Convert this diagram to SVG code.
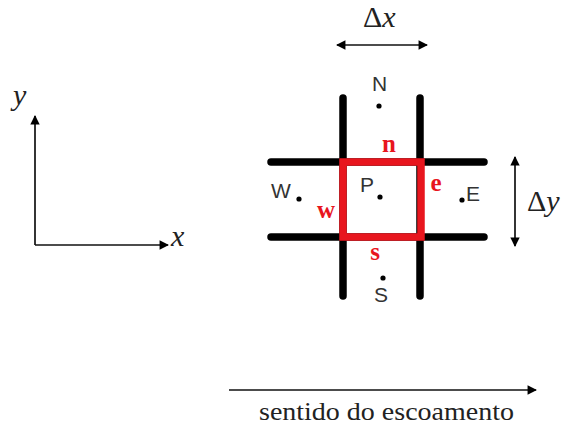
<svg xmlns="http://www.w3.org/2000/svg" width="562" height="426" viewBox="0 0 562 426">
<defs>
<marker id="ah" viewBox="0 0 10 10" refX="9" refY="5" markerWidth="6" markerHeight="5.5" orient="auto-start-reverse" markerUnits="strokeWidth">
<path d="M0,0 L10,5 L0,10 z" fill="#000"/>
</marker>
<style>
.ax{stroke:#111;stroke-width:1.7;fill:none}
.grid{stroke:#000;stroke-width:7.5;stroke-linecap:round}
.cv{fill:none;stroke:#e8161e;stroke-width:7.5}
.lbl{font-family:"Liberation Sans",Arial,sans-serif;font-size:21px;fill:#333}
.face{font-family:"Liberation Serif","Times New Roman",serif;font-weight:bold;font-size:25px;fill:#e8161e}
.math{font-family:"Liberation Serif","Times New Roman",serif;font-style:italic;font-size:30px;fill:#222}
.cap{font-family:"Liberation Serif","Times New Roman",serif;font-size:25px;fill:#222}
</style>
</defs>
<rect width="562" height="426" fill="#fff"/>
<g id="axes">
<text class="math" x="13" y="105">y</text>
<text class="math" x="171" y="246">x</text>
</g>
<g id="grid">
<line class="grid" x1="343" y1="98" x2="343" y2="296"/>
<line class="grid" x1="420" y1="98" x2="420" y2="296"/>
<line class="grid" x1="271" y1="162" x2="484" y2="162"/>
<line class="grid" x1="271" y1="237" x2="484" y2="237"/>
</g>
<g id="cv-P">
<rect class="cv" x="343" y="162" width="78" height="75"/>
<circle cx="380" cy="197" r="2.6"/>
<text class="lbl" x="360" y="192">P</text>
</g>
<g id="node-N"><circle cx="379" cy="106" r="2.6"/><text class="lbl" x="379.5" y="91" text-anchor="middle">N</text></g>
<g id="node-S"><circle cx="383" cy="278" r="2.6"/><text class="lbl" x="381" y="302" text-anchor="middle">S</text></g>
<g id="node-W"><circle cx="299" cy="199" r="2.6"/><text class="lbl" x="271" y="198">W</text></g>
<g id="node-E"><circle cx="462" cy="200" r="2.6"/><text class="lbl" x="466" y="201">E</text></g>
<g id="face-n"><text class="face" x="389" y="152" text-anchor="middle">n</text></g>
<g id="face-e"><text class="face" x="436" y="191" text-anchor="middle">e</text></g>
<g id="face-w"><text class="face" x="326" y="218" text-anchor="middle">w</text></g>
<g id="face-s"><text class="face" x="375" y="260" text-anchor="middle">s</text></g>
<g id="dx"><text class="math" x="363" y="27" font-size="27"><tspan font-style="normal">Δ</tspan>x</text></g>
<g id="dy"><text class="math" x="527" y="211" font-size="27"><tspan font-style="normal">Δ</tspan>y</text></g>
<g id="flow"><text class="cap" x="259" y="420" textLength="255" lengthAdjust="spacingAndGlyphs">sentido do escoamento</text></g>
<g id="connectors">
<line class="ax" x1="35" y1="245" x2="35" y2="116" marker-end="url(#ah)"/>
<line class="ax" x1="35" y1="245" x2="168" y2="245" marker-end="url(#ah)"/>
<line class="ax" x1="337" y1="45" x2="427" y2="45" marker-start="url(#ah)" marker-end="url(#ah)"/>
<line class="ax" x1="515" y1="157" x2="515" y2="246" marker-start="url(#ah)" marker-end="url(#ah)"/>
<line class="ax" x1="229" y1="390" x2="536" y2="390" marker-end="url(#ah)"/>
</g>
</svg>
